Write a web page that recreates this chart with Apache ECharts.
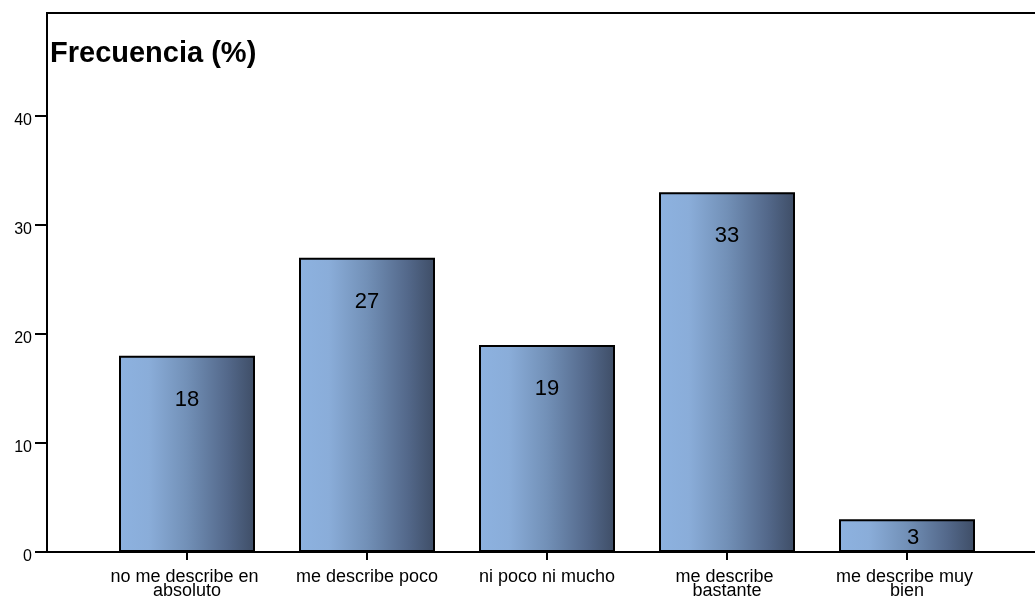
<!DOCTYPE html>
<html>
<head>
<meta charset="utf-8">
<script src="https://cdn.jsdelivr.net/npm/echarts@6/dist/echarts.min.js"></script>
<style>
  html, body { margin: 0; padding: 0; background: #fff; }
  #chart { width: 1035px; height: 597px; }
</style>
</head>
<body>
<div id="chart"></div>
<script>
// Response categories and their frequencies (%)
const categories = [
  'no me describe en absoluto',
  'me describe poco',
  'ni poco ni mucho',
  'me describe bastante',
  'me describe muy bien'
];
const frequencies = [18, 27, 19, 33, 3];
const yTicks = [0, 10, 20, 30, 40];

const FONT = '"Liberation Sans", Arial, sans-serif';

const barFill = new echarts.graphic.LinearGradient(0, 0, 1, 0, [
  { offset: 0, color: '#8DB2E0' },
  { offset: 0.22, color: '#8AADD9' },
  { offset: 0.5, color: '#7290B7' },
  { offset: 0.8, color: '#53688A' },
  { offset: 1, color: '#3E4D66' }
]);

const chart = echarts.init(document.getElementById('chart'), null, { renderer: 'canvas' });

chart.setOption({
  animation: false,
  backgroundColor: '#fff',
  title: {
    text: 'Frecuencia (%)',
    left: 50,
    top: 39,
    padding: 0,
    textStyle: { fontFamily: FONT, fontSize: 29, fontWeight: 'bold', color: '#000' }
  },
  grid: [
    // outer frame: left, top and bottom rules (right edge runs off the page)
    { left: 47, top: 13, width: 1010, bottom: 45, outerBoundsMode: 'none', containLabel: false,
      show: true, borderColor: '#000', borderWidth: 2, backgroundColor: 'transparent' },
    // plotting area for the bars
    { left: 97, width: 900, top: 13, bottom: 45, outerBoundsMode: 'none', containLabel: false }
  ],
  xAxis: [
    { gridIndex: 0, type: 'value', show: false, min: 0, max: 1 },
    {
      gridIndex: 1,
      type: 'category',
      data: categories,
      boundaryGap: true,
      axisLine: { show: false },
      axisTick: { show: true, alignWithLabel: true, length: 8, lineStyle: { color: '#000', width: 2 } },
      axisLabel: {
        interval: 0,
        margin: 18,
        color: '#000',
        fontFamily: FONT,
        fontSize: 18,
        lineHeight: 14,
        width: 165,
        overflow: 'break',
        align: 'center'
      }
    }
  ],
  yAxis: [
    { gridIndex: 0, type: 'value', show: false, min: 0, max: 1 },
    {
      gridIndex: 1,
      type: 'value',
      min: 0,
      max: 49.45,
      offset: 50,
      splitLine: { show: false },
      axisLine: { show: true, lineStyle: { color: '#000', width: 2 } },
      axisTick: { show: true, length: 12, customValues: yTicks, lineStyle: { color: '#000', width: 2 } },
      axisLabel: {
        customValues: yTicks,
        margin: 15,
        color: '#000',
        fontFamily: FONT,
        fontSize: 16,
        verticalAlign: 'top',
        lineHeight: 10
      }
    }
  ],
  series: [
    {
      type: 'bar',
      xAxisIndex: 1,
      yAxisIndex: 1,
      data: frequencies,
      barWidth: 136,
      itemStyle: { color: barFill, borderColor: '#000', borderWidth: 2 },
      label: {
        show: true,
        position: 'insideTop',
        distance: 33,
        color: '#000',
        fontFamily: FONT,
        fontSize: 22
      },
      labelLayout: function (p) {
        // short bars: keep the value centred inside the bar
        if (p.rect.height < 60) {
          return { y: p.rect.y + p.rect.height / 2 - p.labelRect.height / 2 + 2 };
        }
        return {};
      }
    }
  ]
});
</script>
</body>
</html>
